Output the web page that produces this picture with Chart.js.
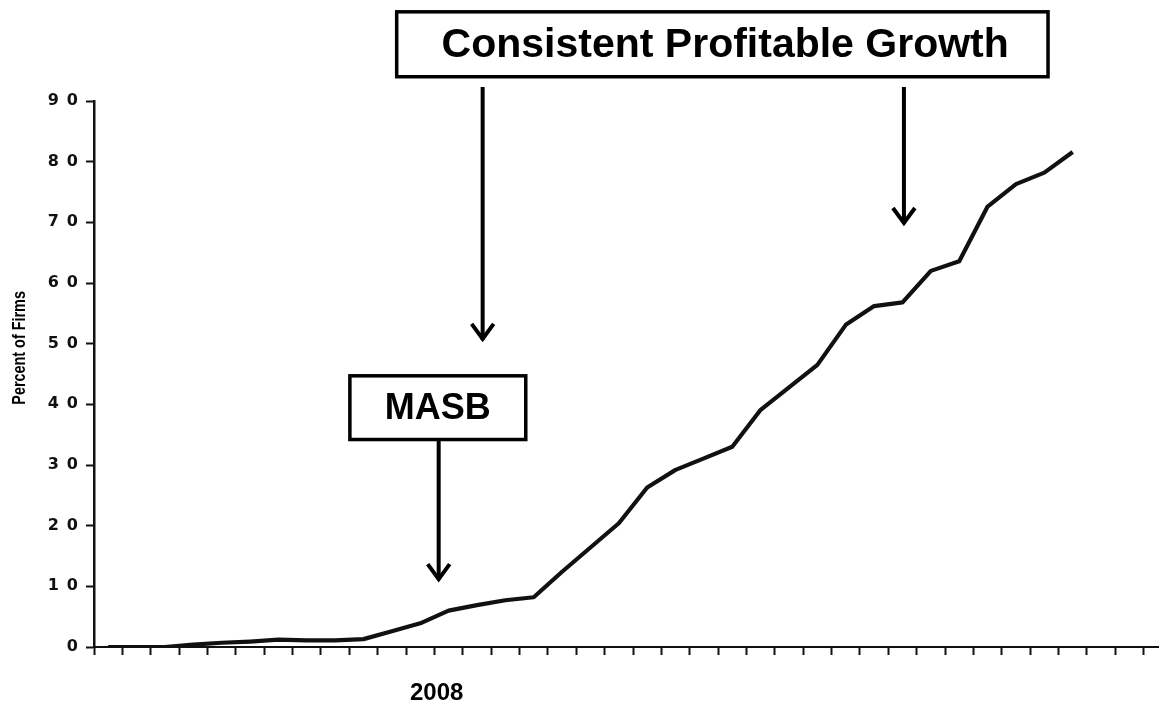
<!DOCTYPE html>
<html lang="en">
<head>
  <meta charset="UTF-8" />
  <title>Percent of Firms</title>
  <script src="https://cdn.jsdelivr.net/npm/chart.js"></script>
  <style>
    html, body { margin: 0; padding: 0; background: #fff; overflow: hidden; }
    #wrap { width: 1180px; height: 708px; }
  </style>
</head>
<body>
  <div id="wrap"><canvas id="firmsChart" width="1180" height="708"></canvas></div>

  <script>
    // x axis periods (only 2008 is labelled in the source picture)
    const periods = ['1', '2', '3', '4', '5', '6', '7', '8', '9', '10',
                     '11', '12', '13', '14', '15', '16', '17', '18', '19', '20',
                     '21', '22', '23', '24', '25', '26', '27', '28', '29', '30',
                     '31', '32', '33', '34', '35', '36', '37', '38'];
    const percentOfFirms = [0, 0, 0, 0.4, 0.7, 0.9, 1.2, 1.1, 1.1, 1.3,
                            2.6, 3.9, 6.0, 6.9, 7.7, 8.2, 12.4, 16.4, 20.4, 26.3,
                            29.2, 31.1, 33.0, 39.1, 42.8, 46.5, 53.1, 56.2, 56.8, 62.0,
                            63.6, 72.6, 76.3, 78.2, 81.6];
    const yTicks = [0, 10, 20, 30, 40, 50, 60, 70, 80, 90];
    const yAxisTitle = 'Percent of Firms';
    const yearLabel = '2008';
    const growthLabel = 'Consistent Profitable Growth';
    const masbLabel = 'MASB';

    // where the callouts sit, in axis units (category index / percent)
    const calloutPos = {
      growthBox: { x0: 10.17, x1: 33.13, top: 104.7, bottom: 94.0, textX: 21.75 },
      growthArrows: [{ x: 13.2, from: 92.3, to: 50.3 }, { x: 28.05, from: 92.3, to: 69.4 }],
      masbBox: { x0: 8.52, x1: 14.72, top: 44.7, bottom: 34.2, textX: 11.62 },
      masbArrow: { x: 11.65, from: 34.2, to: 10.7 },
      year: { x: 11.58, y: -7.6 },
      title: { y: 49.3 }
    };

    function drawArrow(ctx, x, y0, y1) {
      ctx.beginPath();
      ctx.moveTo(x, y0);
      ctx.lineTo(x, y1 - 2);
      ctx.stroke();
      ctx.beginPath();
      ctx.moveTo(x - 11, y1 - 18);
      ctx.lineTo(x, y1 - 3);
      ctx.lineTo(x + 11, y1 - 18);
      ctx.stroke();
    }

    const calloutPlugin = {
      id: 'callouts',
      afterDraw(chart) {
        const { ctx } = chart;
        const xs = chart.scales.x, ys = chart.scales.y;
        const px = v => xs.getPixelForValue(v);
        const py = v => ys.getPixelForValue(v);
        ctx.save();
        ctx.strokeStyle = '#000';
        ctx.fillStyle = '#000';

        // boxes
        ctx.lineWidth = 3.5;
        [[calloutPos.growthBox, growthLabel, 'bold 41px "Liberation Sans", Arial, sans-serif'],
         [calloutPos.masbBox, masbLabel, 'bold 36px "Liberation Sans", Arial, sans-serif']].forEach(([b, text, font]) => {
          const l = px(b.x0), r = px(b.x1), t = py(b.top), btm = py(b.bottom);
          ctx.fillStyle = '#fff';
          ctx.fillRect(l, t, r - l, btm - t);
          ctx.strokeRect(l, t, r - l, btm - t);
          ctx.fillStyle = '#000';
          ctx.font = font;
          ctx.textAlign = 'center';
          ctx.textBaseline = 'middle';
          ctx.fillText(text, px(b.textX), (t + btm) / 2 + 1);
        });

        // arrows
        ctx.lineWidth = 4;
        ctx.lineJoin = 'miter';
        calloutPos.growthArrows.forEach(a => drawArrow(ctx, px(a.x), py(a.from), py(a.to)));
        const m = calloutPos.masbArrow;
        drawArrow(ctx, px(m.x), py(m.from), py(m.to));

        // year under the axis
        ctx.font = 'bold 24px "Liberation Sans", Arial, sans-serif';
        ctx.textAlign = 'center';
        ctx.textBaseline = 'middle';
        ctx.fillText(yearLabel, px(calloutPos.year.x), py(calloutPos.year.y));

        // y axis title (narrow, heavy lettering as in the source)
        ctx.translate(20, py(calloutPos.title.y));
        ctx.rotate(-Math.PI / 2);
        ctx.scale(0.8, 1);
        ctx.font = 'bold 18px "Liberation Sans", Arial, sans-serif';
        ctx.fillText(yAxisTitle, 0, 0);
        ctx.restore();
      }
    };

    const ctx = document.getElementById('firmsChart').getContext('2d');
    new Chart(ctx, {
      type: 'line',
      data: {
        labels: periods,
        datasets: [{
          label: yAxisTitle,
          data: percentOfFirms,
          borderColor: '#111',
          borderWidth: 4.2,
          borderJoinStyle: 'round',
          pointRadius: 0,
          fill: false,
          tension: 0
        }]
      },
      options: {
        responsive: false,
        animation: false,
        layout: { padding: { top: 101, right: 8, left: 0, bottom: 0 } },
        plugins: {
          legend: { display: false },
          tooltip: { enabled: false }
        },
        scales: {
          x: {
            type: 'category',
            offset: true,
            grid: { drawOnChartArea: false, drawTicks: true, tickLength: 8, tickWidth: 2, tickColor: '#111', offset: true },
            border: { display: true, color: '#111', width: 2 },
            ticks: { display: false },
            afterFit: s => { s.height = 61; }
          },
          y: {
            min: 0,
            max: 90,
            afterBuildTicks: s => { s.ticks = yTicks.map(v => ({ value: v })); },
            grid: { drawOnChartArea: false, drawTicks: true, tickLength: 8, tickWidth: 2, tickColor: '#111' },
            border: { display: true, color: '#111', width: 2.5 },
            ticks: {
              color: '#111',
              padding: 8,
              font: { family: '"DejaVu Sans"', weight: 'bold', size: 16 },
              callback: v => String(v).split('').join('\u2002')
            },
            afterFit: s => { s.width = 94; }
          }
        }
      },
      plugins: [calloutPlugin]
    });
  </script>
</body>
</html>
